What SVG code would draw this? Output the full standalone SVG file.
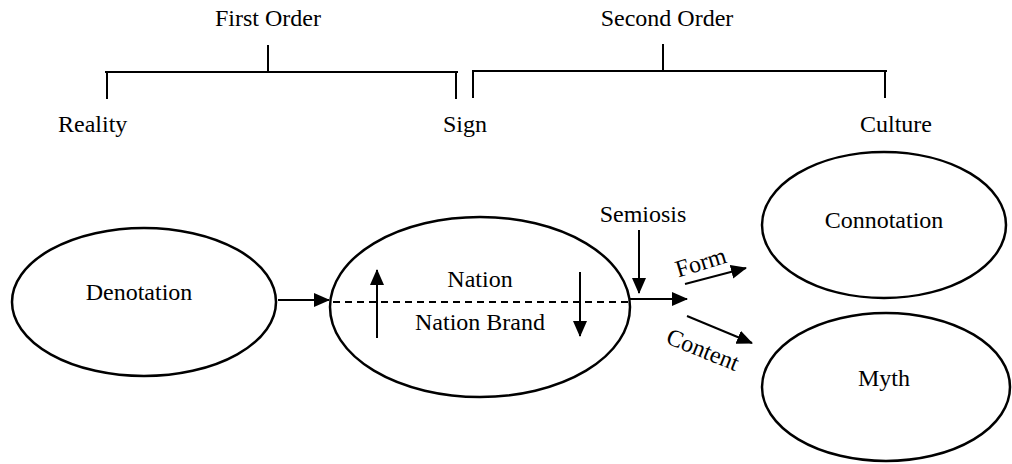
<svg xmlns="http://www.w3.org/2000/svg" width="1012" height="464" viewBox="0 0 1012 464">
  <style>
    .mid { text-anchor: middle; }
    .node { fill: #fff; stroke: #000; stroke-width: 2.5; }
    .bracket { fill: none; stroke: #000; stroke-width: 2; }
    .link { fill: none; stroke: #000; stroke-width: 2; }
    .dash { fill: none; stroke: #000; stroke-width: 2; stroke-dasharray: 7 5; }
  </style>
  <defs>
    <marker id="head" markerUnits="userSpaceOnUse" markerWidth="16" markerHeight="14" refX="15" refY="7" orient="auto">
      <path d="M0,0 L16,7 L0,14 Z" fill="#000"/>
    </marker>
  </defs>

  <g font-family="'Liberation Serif', 'Times New Roman', serif" font-size="24" fill="#000">
    <!-- order brackets -->
    <g id="first-order">
      <text class="mid" x="268" y="26">First Order</text>
      <path class="bracket" d="M268,45 V72 M105,72 H458 M107,72 V99 M456,72 V99"/>
    </g>
    <g id="second-order">
      <text class="mid" x="667" y="26">Second Order</text>
      <path class="bracket" d="M663,44 V71 M472,71 H887 M473,71 V98 M885,71 V98"/>
    </g>
    <text id="reality" x="58" y="132">Reality</text>
    <text id="sign" x="443" y="132">Sign</text>
    <text id="culture" x="860" y="132">Culture</text>

    <!-- nodes -->
    <g id="denotation">
      <ellipse class="node" cx="144" cy="302" rx="132" ry="74"/>
      <text class="mid" x="139" y="300">Denotation</text>
    </g>
    <g id="nation">
      <ellipse class="node" cx="480" cy="307" rx="150" ry="90"/>
      <line class="dash" x1="333" y1="302" x2="628" y2="302"/>
      <text class="mid" x="480" y="287">Nation</text>
      <text class="mid" x="480" y="330">Nation Brand</text>
    </g>
    <g id="connotation">
      <ellipse class="node" cx="884" cy="225" rx="122" ry="73"/>
      <text class="mid" x="884" y="228">Connotation</text>
    </g>
    <g id="myth">
      <ellipse class="node" cx="886" cy="387" rx="124" ry="74"/>
      <text class="mid" x="884" y="386">Myth</text>
    </g>

    <!-- connectors -->
    <g id="connectors">
      <line class="link" x1="278" y1="300" x2="329" y2="300" marker-end="url(#head)"/>
      <line class="link" x1="377" y1="338" x2="377" y2="270" marker-end="url(#head)"/>
      <line class="link" x1="580" y1="272" x2="580" y2="336" marker-end="url(#head)"/>
      <line class="link" x1="639" y1="230" x2="639" y2="293" marker-end="url(#head)"/>
      <line class="link" x1="630" y1="299" x2="687" y2="299" marker-end="url(#head)"/>
      <line class="link" x1="685" y1="284" x2="746" y2="268" marker-end="url(#head)"/>
      <line class="link" x1="687" y1="316" x2="752" y2="343" marker-end="url(#head)"/>
      <text class="mid" x="643" y="222">Semiosis</text>
      <text class="mid" transform="translate(703,270) rotate(-17)">Form</text>
      <text class="mid" transform="translate(700,357) rotate(22)">Content</text>
    </g>
  </g>
</svg>
